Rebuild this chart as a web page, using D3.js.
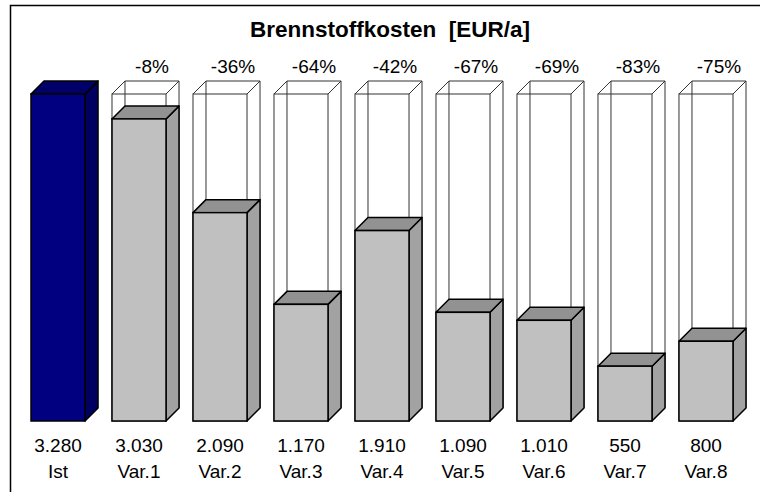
<!DOCTYPE html>
<html>
<head>
<meta charset="utf-8">
<script src="https://cdn.jsdelivr.net/npm/d3@7"></script>
<style>
  body { margin: 0; background: #fff; }
  text { font-family: Arial, "Liberation Sans", sans-serif; }
</style>
</head>
<body>
<svg id="chart"></svg>
<script>
// Brennstoffkosten, Ist vs. Varianten
var categories = ["Ist", "Var.1", "Var.2", "Var.3", "Var.4", "Var.5", "Var.6", "Var.7", "Var.8"]
var costs = [3280, 3030, 2090, 1170, 1910, 1090, 1010, 550, 800]
var pctLabels = ["", "-8%", "-36%", "-64%", "-42%", "-67%", "-69%", "-83%", "-75%"]
var title = "Brennstoffkosten  [EUR/a]"

var width = 760, height = 492
var depth = 13

var de = d3.formatLocale({decimal: ",", thousands: ".", grouping: [3], currency: ["", " €"]})
var fmt = de.format(",.0f")

var svg = d3.select("#chart")
  .attr("width", width)
  .attr("height", height)

// frame (runs off the right / bottom edge like the original)
svg.append("rect")
  .attr("x", 10.5).attr("y", 5.5)
  .attr("width", 760).attr("height", 500)
  .attr("fill", "none")
  .attr("stroke", "#000")
  .attr("stroke-width", 1.5)

var x = d3.scaleBand()
  .domain(categories)
  .range([31, 733])
  .paddingInner(0.333)
  .paddingOuter(0)

var y = d3.scaleLinear()
  .domain([0, costs[0]])
  .range([421, 94])

svg.append("text")
  .attr("x", 390)
  .attr("y", 37)
  .attr("text-anchor", "middle")
  .attr("font-weight", "bold")
  .attr("font-size", 22.5)
  .style("white-space", "pre")
  .text(title)

var bw = x.bandwidth()

function box(g, x0, ytop, ybot, front, top, side, stroke, sw) {
  // side
  g.append("path")
    .attr("d", d3.line()([[x0 + bw, ytop], [x0 + bw + depth, ytop - depth], [x0 + bw + depth, ybot - depth], [x0 + bw, ybot]]) + "Z")
    .attr("fill", side).attr("stroke", stroke).attr("stroke-width", sw).attr("stroke-linejoin", "round")
  // top
  g.append("path")
    .attr("d", d3.line()([[x0, ytop], [x0 + depth, ytop - depth], [x0 + bw + depth, ytop - depth], [x0 + bw, ytop]]) + "Z")
    .attr("fill", top).attr("stroke", stroke).attr("stroke-width", sw).attr("stroke-linejoin", "round")
  // front
  g.append("rect")
    .attr("x", x0).attr("y", ytop)
    .attr("width", bw).attr("height", ybot - ytop)
    .attr("fill", front).attr("stroke", stroke).attr("stroke-width", sw)
}

var bars = svg.append("g")

categories.forEach(function(c, i) {
  var g = bars.append("g")
  var x0 = x(c)
  if (i > 0) {
    // wireframe box showing the Ist level
    var yt = y(costs[0]), yb = y(0)
    var wf = g.append("g").attr("fill", "none").attr("stroke", "#333").attr("stroke-width", 1)
    wf.append("path").attr("d", d3.line()([[x0 + depth, yt - depth], [x0 + depth, yb - depth]]))
    wf.append("path").attr("d", d3.line()([[x0 + bw + depth, yt - depth], [x0 + bw + depth, yb - depth]]))
    wf.append("path").attr("d", d3.line()([[x0, yt], [x0 + depth, yt - depth], [x0 + bw + depth, yt - depth], [x0 + bw, yt]]))
    wf.append("rect").attr("x", x0).attr("y", yt).attr("width", bw).attr("height", yb - yt)
    box(g, x0, y(costs[i]), y(0), "#c0c0c0", "#929292", "#a2a2a2", "#000", 1.5)
  } else {
    box(g, x0, y(costs[i]), y(0), "#000080", "#000068", "#000060", "#000", 1.5)
  }
})

var labels = svg.append("g").attr("font-size", 19).attr("text-anchor", "middle").attr("fill", "#000")

labels.selectAll("text.pct")
  .data(categories)
  .join("text")
  .attr("class", "pct")
  .attr("x", d => x(d) + depth + bw / 2)
  .attr("y", 73)
  .text((d, i) => pctLabels[i])

labels.selectAll("text.val")
  .data(categories)
  .join("text")
  .attr("class", "val")
  .attr("x", d => x(d) + bw / 2)
  .attr("y", 452)
  .text((d, i) => fmt(costs[i]))

labels.selectAll("text.cat")
  .data(categories)
  .join("text")
  .attr("class", "cat")
  .attr("x", d => x(d) + bw / 2)
  .attr("y", 478)
  .text(d => d)
</script>
</body>
</html>
